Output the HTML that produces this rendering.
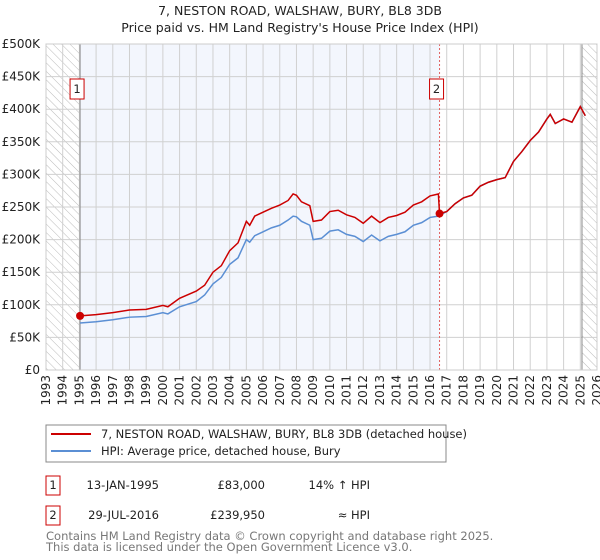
<!DOCTYPE html>
<html><head><meta charset="utf-8"><style>
body{margin:0;background:#fff;font-family:"Liberation Sans","DejaVu Sans",sans-serif}
svg{display:block}
</style></head><body>
<svg width="600" height="560" viewBox="0 0 600 560" font-family="DejaVu Sans, Liberation Sans, sans-serif">
<defs>
<pattern id="hatch" width="6" height="6" patternUnits="userSpaceOnUse" patternTransform="rotate(-45)">
<line x1="0" y1="0" x2="0" y2="6" stroke="#bbb" stroke-width="1"/>
</pattern>
</defs>
<text x="300" y="15" text-anchor="middle" font-size="12.5" fill="#222">7, NESTON ROAD, WALSHAW, BURY, BL8 3DB</text>
<text x="300" y="32" text-anchor="middle" font-size="12.5" fill="#222">Price paid vs. HM Land Registry's House Price Index (HPI)</text>
<g id="plot"></g>
<g>
<rect x="46" y="425" width="400" height="37" fill="#fff" stroke="#888"/>
<line x1="51" y1="434" x2="91" y2="434" stroke="#cc0000" stroke-width="2"/>
<text x="101" y="438" font-size="11.5" fill="#222">7, NESTON ROAD, WALSHAW, BURY, BL8 3DB (detached house)</text>
<line x1="51" y1="451" x2="91" y2="451" stroke="#5b8fd4" stroke-width="2"/>
<text x="101" y="455" font-size="11.5" fill="#222">HPI: Average price, detached house, Bury</text>
</g>
<g font-size="11.5" fill="#222">
<rect x="46" y="476" width="14" height="19" fill="none" stroke="#cc0000"/>
<text x="53" y="489" text-anchor="middle">1</text>
<text x="159" y="489" text-anchor="end">13-JAN-1995</text>
<text x="265" y="489" text-anchor="end">£83,000</text>
<text x="370" y="489" text-anchor="end">14% ↑ HPI</text>
<rect x="46" y="506" width="14" height="19" fill="none" stroke="#cc0000"/>
<text x="53" y="519" text-anchor="middle">2</text>
<text x="159" y="519" text-anchor="end">29-JUL-2016</text>
<text x="265" y="519" text-anchor="end">£239,950</text>
<text x="370" y="519" text-anchor="end">≈ HPI</text>
</g>
<text x="46" y="540" font-size="11.5" fill="#777">Contains HM Land Registry data © Crown copyright and database right 2025.</text>
<text x="46" y="551" font-size="11.5" fill="#777">This data is licensed under the Open Government Licence v3.0.</text>
</svg>
<script>
const dates=[1995.04,1996,1997,1998,1999,2000,2000.3,2001,2002,2002.5,2003,2003.5,2004,2004.5,2005,2005.2,2005.5,2006,2006.5,2007,2007.5,2007.8,2008,2008.3,2008.8,2009,2009.5,2010,2010.5,2011,2011.5,2012,2012.5,2013,2013.5,2014,2014.5,2015,2015.5,2016,2016.5,2016.57,2017,2017.5,2018,2018.5,2019,2019.5,2020,2020.5,2021,2021.5,2022,2022.5,2023,2023.2,2023.5,2024,2024.5,2025,2025.3];
const hpi=[72,74,77,81,82,88,86,97,105,115,132,142,162,172,200,196,206,212,218,222,230,236,235,228,222,200,202,213,215,208,205,197,207,198,205,208,212,222,226,234,236,237,243,255,264,268,282,288,292,295,320,335,352,365,385,392,378,385,380,404,390];
const price=[83,85,88,92,93,99,97,110,121,130,150,160,183,195,228,222,236,242,248,253,260,270,268,258,252,228,230,243,245,238,234,225,236,226,234,237,242,253,258,267,270,240,243,255,264,268,282,288,292,295,320,335,352,365,385,392,378,385,380,404,390];
const yTicks=[0,50,100,150,200,250,300,350,400,450,500];
const yLabels=["£0","£50K","£100K","£150K","£200K","£250K","£300K","£350K","£400K","£450K","£500K"];
const xYears=[1993,1994,1995,1996,1997,1998,1999,2000,2001,2002,2003,2004,2005,2006,2007,2008,2009,2010,2011,2012,2013,2014,2015,2016,2017,2018,2019,2020,2021,2022,2023,2024,2025,2026];
const sales=[{n:"1",d:1995.04,v:83},{n:"2",d:2016.57,v:239.95}];
const L=46,R=597,T=44,B=370;
const x=d=>L+(d-1993)/(2026-1993)*(R-L);
const y=v=>B-v/500*(B-T);
const NS="http://www.w3.org/2000/svg";
const g=document.getElementById('plot');
function mk(t,a,p){const e=document.createElementNS(NS,t);for(const k in a)e.setAttribute(k,a[k]);(p||g).appendChild(e);return e;}
mk('rect',{x:L,y:T,width:R-L,height:B-T,fill:'#fff'});
mk('rect',{x:x(1995.04),y:T,width:x(2016.57)-x(1995.04),height:B-T,fill:'#f3f6fd'});
mk('rect',{x:L,y:T,width:x(1995.04)-L,height:B-T,fill:'url(#hatch)'});
mk('rect',{x:x(2025.1),y:T,width:R-x(2025.1),height:B-T,fill:'url(#hatch)'});
xYears.forEach(yr=>{mk('line',{x1:x(yr),y1:T,x2:x(yr),y2:B,stroke:'#d0d0d0','stroke-width':1});
 const t=mk('text',{x:0,y:0,'font-size':12,fill:'#222','text-anchor':'end',transform:`translate(${x(yr)+4},${B+5}) rotate(-90)`});
 
 
 t.textContent=yr;});
yTicks.forEach((v,i)=>{mk('line',{x1:L,y1:y(v),x2:R,y2:y(v),stroke:'#d0d0d0','stroke-width':1});
 const t=mk('text',{x:L-6,y:y(v)+4,'font-size':12,fill:'#222','text-anchor':'end'});
 
 
 t.textContent=yLabels[i];});
mk('line',{x1:x(1995.04),y1:T,x2:x(1995.04),y2:B,stroke:'#888','stroke-width':1});
mk('line',{x1:x(2025.1),y1:T,x2:x(2025.1),y2:B,stroke:'#888','stroke-width':1});
mk('line',{x1:x(2016.57),y1:T,x2:x(2016.57),y2:B,stroke:'#e06060','stroke-width':1,'stroke-dasharray':'2,2'});
const hp=mk('polyline',{points:dates.map((d,i)=>x(d)+','+y(hpi[i])).join(' '),fill:'none',stroke:'#5b8fd4','stroke-width':1.5});


const pp=mk('polyline',{points:dates.map((d,i)=>x(d)+','+y(price[i])).join(' '),fill:'none',stroke:'#cc0000','stroke-width':1.5});


sales.forEach(s=>{const c=mk('circle',{cx:x(s.d),cy:y(s.v),r:4,fill:'#cc0000'});
 
 
 const bx=x(s.d)-3;
 mk('rect',{x:bx-7,y:79,width:14,height:20,fill:'#fff',stroke:'#cc0000'});
 const t=mk('text',{x:bx,y:93,'font-size':11.5,'text-anchor':'middle',fill:'#222'});
 
 
 t.textContent=s.n;});
mk('rect',{x:L,y:T,width:R-L,height:B-T,fill:'none',stroke:'#ccc'});
</script>
</body></html>
